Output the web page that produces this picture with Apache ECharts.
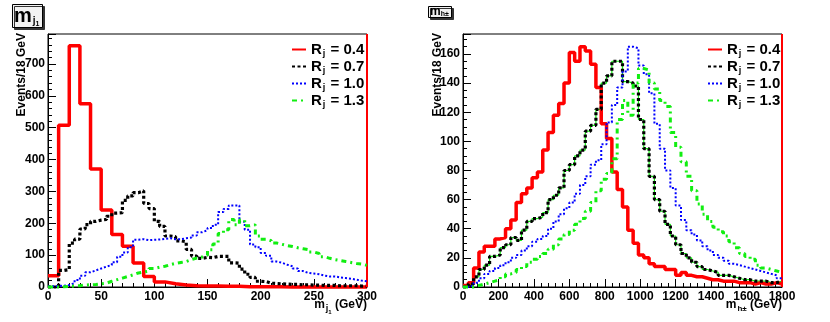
<!DOCTYPE html>
<html>
<head>
<meta charset="utf-8">
<script src="https://cdn.jsdelivr.net/npm/echarts@6/dist/echarts.min.js"></script>
<style>
html,body{margin:0;padding:0;background:#fff}
#chart{width:830px;height:322px}
</style>
</head>
<body>
<div id="chart"></div>
<script>
// m_j1 : 0-300 GeV (R=0.4 in 10 GeV bins, the others in 5 GeV bins)
const mjRange = [0, 300]
const mj04 = [35,508,757,575,370,242,165,128,75,33,16,10,6,4,3,3,2,2,1,1,1,1,0,0,0,0,0,0,0,0]
const mj07 = [0,0,52,55,138,150,182,196,206,210, 212,222,232,233,272,286,296,302,262,246,
              206,190,160,158,145,142,118,97,90,93, 92,96,96,96,76,75,56,40,30,18,
              17,12,11,10,9,8,8,7,7,6, 6,5,5,5,4,4,4,4,3,3]
const mj10 = [2,3,4,6,12,22,35,46,52,58, 64,69,78,95,108,125,148,150,147,148,
              149,151,153,150,150,153,155,162,172,178, 185,195,235,245,256,256,205,180,133,125,
              107,98,80,76,70,65,58,50,44,42, 40,36,33,33,30,28,26,23,20,18]
const mj13 = [0,0,1,2,3,4,6,7,8,10, 12,18,23,28,33,38,44,47,50,58,
              62,65,70,74,77,80,86,91,94,100, 117,135,168,180,212,195,210,192,195,160,
              150,145,138,134,130,127,123,120,117,110, 105,95,90,86,83,80,77,74,72,68]
const mjTicks = [0, 50, 100, 150, 200, 250, 300]
const mjYTicks = [0, 100, 200, 300, 400, 500, 600, 700]
const mjYMax = 794

// m_h± : 0-1800 GeV, 30 GeV bins
const mhRange = [0, 1800]
const mh04 = [1,3,13,24,28,28,33,34,40,46, 58,64,68,75,79,94,106,118,126,140,
              161,155,165,162,153,137,112,102,79,67, 55,39,30,22,20,16,14,14,12,12,
              8,10,8,7,7,6,5,5,4,4, 4,3,3,3,2,3,2,2,3,2]
const mh07 = [0,2,7,12,15,21,22,27,29,34, 32,39,45,47,48,51,60,63,68,80,
              84,90,94,107,111,122,140,145,155,155, 141,140,138,115,95,76,60,52,43,35,
              29,23,20,17,14,12,11,10,8,8, 7,6,5,5,4,4,4,3,3,4]
const mh10 = [0,1,3,6,9,11,13,15,17,20, 22,25,28,31,33,35,40,45,50,54,
              58,64,70,76,84,87,98,113,125,137, 148,165,164,152,146,133,112,95,80,68,
              56,46,39,36,32,28,25,22,20,18, 16,15,14,13,12,11,10,9,8,6]
const mh13 = [0,0,1,2,3,4,5,7,9,10, 12,14,17,19,21,23,26,29,33,36,
              39,43,47,52,58,66,74,78,88,115, 128,118,140,150,149,140,136,128,124,106,
              96,86,76,66,57,50,45,41,38,35, 31,27,23,21,19,15,13,12,11,10]
const mhTicks = [0, 200, 400, 600, 800, 1000, 1200, 1400, 1600, 1800]
const mhYTicks = [0, 20, 40, 60, 80, 100, 120, 140, 160]
const mhYMax = 173.7

const labels = ['R_j = 0.4', 'R_j = 0.7', 'R_j = 1.0', 'R_j = 1.3']

const font = '"Liberation Sans", Arial, sans-serif'
const lineStyles = [
    {color: '#ff0000', width: 3.5, type: 'solid'},
    {color: '#000000', width: 3.2, type: [3, 2.5]},
    {color: '#0000ff', width: 2, type: [2, 2]},
    {color: '#11ee11', width: 3, type: [5, 4, 2, 4]}
]

// histogram -> step points on bin low edges, plus closing point at the upper edge
const toSteps = (vals, [lo, hi]) => {
    const w = (hi - lo) / vals.length
    const pts = vals.map((v, i) => [lo + i * w, v])
    pts.push([hi, vals[vals.length - 1]])
    return pts
}

const histSeries = (sets, range, idx) => sets.map((vals, k) => {
    const s = {
        name: labels[k],
        type: 'line',
        xAxisIndex: idx,
        yAxisIndex: idx,
        step: 'end',
        symbol: 'none',
        clip: false,
        z: 3 + k,
        data: toSteps(vals, range),
        lineStyle: lineStyles[k],
        itemStyle: {color: lineStyles[k].color},
        emphasis: {disabled: true}
    }
    if (k === 0) {
        // ROOT draws the red line up the right edge of the frame
        s.markLine = {
            silent: true, symbol: 'none', label: {show: false},
            lineStyle: {color: '#ff0000', width: 2, type: 'solid'},
            data: [{xAxis: range[1]}]
        }
    }
    return s
})

const xAxisOf = (idx, ticks) => ({
    type: 'value', gridIndex: idx,
    min: ticks[0], max: ticks[ticks.length - 1], interval: ticks[1] - ticks[0],
    axisLine: {lineStyle: {color: '#000', width: 1}},
    axisTick: {inside: true, length: 8, lineStyle: {color: '#000'}},
    minorTick: {show: true, splitNumber: 5, length: 4, lineStyle: {color: '#000'}},
    axisLabel: {color: '#000', fontWeight: 'bold', fontSize: 12, fontFamily: font, margin: 4,
        formatter: v => String(v)},
    splitLine: {show: false}
})

const yAxisOf = (idx, ticks, max, minor) => ({
    type: 'value', gridIndex: idx,
    min: 0, max, interval: ticks[1] - ticks[0],
    axisLine: {lineStyle: {color: '#000', width: 1}},
    axisTick: {inside: true, length: 8, lineStyle: {color: '#000'}},
    minorTick: {show: true, splitNumber: minor, length: 4, lineStyle: {color: '#000'}},
    axisLabel: {
        color: '#000', fontWeight: 'bold', fontSize: 12, fontFamily: font, margin: 3,
        showMaxLabel: false,
        formatter: v => ticks.includes(v) ? String(v) : ''
    },
    splitLine: {show: false}
})

const legendOf = left => ({
    data: labels, orient: 'vertical', left, top: 36,
    itemWidth: 14, itemHeight: 10, itemGap: 0,
    selectedMode: false,
    // hide the circle ECharts puts in the middle of line icons
    itemStyle: {opacity: 0},
    formatter: name => {
        const [a, b] = name.split('_')
        return `{r|${a}}{s|${b[0]}}{r|${b.slice(1)}}`
    },
    textStyle: {
        rich: {
            r: {fontSize: 15, fontWeight: 'bold', fontFamily: font, color: '#000', lineHeight: 18},
            s: {fontSize: 9, fontWeight: 'bold', fontFamily: font, color: '#000', lineHeight: 10, padding: [8, 1, 0, 1]}
        }
    }
})

const boxTitle = (left, text, rich) => ({
    text, left, top: 6,
    padding: [0, 3, 0, 2],
    backgroundColor: '#f2f2f2', borderColor: '#000', borderWidth: 1,
    shadowColor: '#333', shadowOffsetX: 2, shadowOffsetY: 2, shadowBlur: 0,
    textStyle: {rich}
})

const chart = echarts.init(document.getElementById('chart'))
chart.setOption({
    animation: false,
    backgroundColor: '#fff',
    title: [
        boxTitle(12, '{m|m}{j|j}{o|1}', {
            m: {fontSize: 20, fontWeight: 'bold', fontFamily: font, color: '#000', lineHeight: 20},
            j: {fontSize: 10, fontWeight: 'bold', fontFamily: font, color: '#000', lineHeight: 11, padding: [10, 0, 0, 1]},
            o: {fontSize: 7, fontWeight: 'bold', fontFamily: font, color: '#000', lineHeight: 7, padding: [16, 0, 0, 0]}
        }),
        boxTitle(428, '{m|m}{h|h±}', {
            m: {fontSize: 12, fontWeight: 'bold', fontFamily: font, color: '#000', lineHeight: 12},
            h: {fontSize: 7, fontWeight: 'bold', fontFamily: font, color: '#000', lineHeight: 7, padding: [5, 0, 0, 0]}
        })
    ],
    grid: [
        {left: 48, top: 34, width: 319, height: 253, show: true, borderColor: '#000', borderWidth: 1, backgroundColor: '#fff', outerBoundsMode: 'none'},
        {left: 463, top: 34, width: 319, height: 253, show: true, borderColor: '#000', borderWidth: 1, backgroundColor: '#fff', outerBoundsMode: 'none'}
    ],
    xAxis: [xAxisOf(0, mjTicks), xAxisOf(1, mhTicks)],
    yAxis: [yAxisOf(0, mjYTicks, mjYMax, 5), yAxisOf(1, mhYTicks, mhYMax, 4)],
    legend: [legendOf(286), legendOf(702)],
    graphic: [
        {type: 'text', x: 22, y: 33, rotation: Math.PI / 2, z: 10,
         style: {text: 'Events/18 GeV', font: 'bold 12px ' + font, fill: '#000', align: 'right', verticalAlign: 'middle'}},
        {type: 'text', x: 438, y: 33, rotation: Math.PI / 2, z: 10,
         style: {text: 'Events/18 GeV', font: 'bold 12px ' + font, fill: '#000', align: 'right', verticalAlign: 'middle'}},
        {type: 'text', x: 367, y: 305, z: 10,
         style: {text: '{m|m}{s|j}{t|1}{g| (GeV)}', align: 'right', verticalAlign: 'middle',
            rich: {
                m: {font: 'bold 12px ' + font, fill: '#000', lineHeight: 14},
                s: {font: 'bold 9px ' + font, fill: '#000', lineHeight: 9, padding: [8, 0, 0, 1]},
                t: {font: 'bold 6px ' + font, fill: '#000', lineHeight: 6, padding: [14, 0, 0, 0]},
                g: {font: 'bold 12px ' + font, fill: '#000', lineHeight: 14}
            }}},
        {type: 'text', x: 782, y: 305, z: 10,
         style: {text: '{m|m}{s|h±}{g| (GeV)}', align: 'right', verticalAlign: 'middle',
            rich: {
                m: {font: 'bold 12px ' + font, fill: '#000', lineHeight: 14},
                s: {font: 'bold 8px ' + font, fill: '#000', lineHeight: 8, padding: [8, 0, 0, 1]},
                g: {font: 'bold 12px ' + font, fill: '#000', lineHeight: 14}
            }}}
    ],
    series: [
        ...histSeries([mj04, mj07, mj10, mj13], mjRange, 0),
        // thin green line that runs under the R=0.7 histogram in the right pad
        {name: 'under', type: 'line', xAxisIndex: 1, yAxisIndex: 1, step: 'end', symbol: 'none',
         clip: false, z: 3, data: toSteps(mh07, mhRange), lineStyle: {color: '#11ee11', width: 1.2},
         emphasis: {disabled: true}},
        ...histSeries([mh04, mh07, mh10, mh13], mhRange, 1)
    ]
})
</script>
</body>
</html>
